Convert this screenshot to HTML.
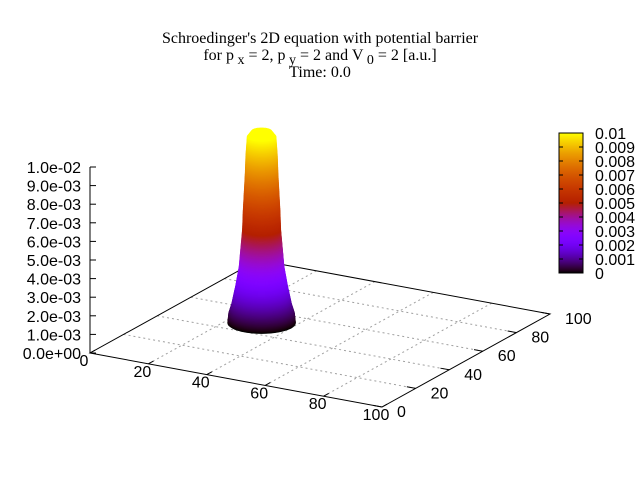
<!DOCTYPE html>
<html><head><meta charset="utf-8">
<style>
html,body{margin:0;padding:0;background:#fff;}
svg{display:block;}
.t{font-family:"Liberation Serif",serif;font-size:16px;}
.l{font-family:"Liberation Sans",sans-serif;font-size:16px;}
</style></head>
<body>
<svg id="chart" width="640" height="480" viewBox="0 0 640 480" xmlns="http://www.w3.org/2000/svg">
<text class="t" x="320" y="43" text-anchor="middle">Schroedinger's 2D equation with potential barrier</text>
<text class="t" x="320" y="60" text-anchor="middle">for p<tspan dy="4" font-size="14"> x</tspan><tspan dy="-4"> = 2, p</tspan><tspan dy="4" font-size="14"> y</tspan><tspan dy="-4"> = 2 and V</tspan><tspan dy="4" font-size="14"> 0</tspan><tspan dy="-4"> = 2 [a.u.]</tspan></text>
<text class="t" x="320" y="77" text-anchor="middle">Time: 0.0</text>
<g id="grid"></g>
<g id="axes"></g>
<g id="peak"></g>
<g id="cbar"></g>
</svg>
<script>
const xTicks=[0,20,40,60,80,100];
const yTicks=[0,20,40,60,80,100];
const zTicks=[0,0.001,0.002,0.003,0.004,0.005,0.006,0.007,0.008,0.009,0.01];
const zTickLabels=["0.0e+00","1.0e-03","2.0e-03","3.0e-03","4.0e-03","5.0e-03","6.0e-03","7.0e-03","8.0e-03","9.0e-03","1.0e-02"];
const cbTickLabels=["0","0.001","0.002","0.003","0.004","0.005","0.006","0.007","0.008","0.009","0.01"];
const peakCenter=[30,50];
const profileZ=[0,0.0005,0.001,0.002,0.003,0.004,0.005,0.006,0.007,0.008,0.009,0.010,0.0103];
const profileR=[10.1,9.8,8.9,7.7,6.7,6.2,5.7,5.5,5.2,4.9,4.7,4.3,3.0];
const NS="http://www.w3.org/2000/svg";
function P(x,y,z){return [90+x*2.92+y*1.68, 353+x*0.54-y*0.93-z*18600];}
function pal(t){t=Math.max(0,Math.min(1,t));const r=Math.sqrt(t),g=t*t*t,b=Math.max(0,Math.sin(2*Math.PI*t));
return `rgb(${Math.round(r*255)},${Math.round(g*255)},${Math.round(b*255)})`;}
function mk(tag,attrs,parent){const e=document.createElementNS(NS,tag);for(const k in attrs)e.setAttribute(k,attrs[k]);parent.appendChild(e);return e;}
const grid=document.getElementById('grid'),axes=document.getElementById('axes'),peak=document.getElementById('peak'),cbar=document.getElementById('cbar');
xTicks.slice(1,-1).forEach(v=>{const a=P(v,0,0),b=P(v,100,0);
const l=mk('line',{x1:a[0],y1:a[1],x2:b[0],y2:b[1],stroke:'#a0a0a0','stroke-width':1,'stroke-dasharray':'2,3'},grid);

});
yTicks.slice(1,-1).forEach(v=>{const a=P(0,v,0),b=P(100,v,0);
const l=mk('line',{x1:a[0],y1:a[1],x2:b[0],y2:b[1],stroke:'#a0a0a0','stroke-width':1,'stroke-dasharray':'2,3'},grid);

});
const c=[P(0,0,0),P(100,0,0),P(100,100,0),P(0,100,0)];
const bd=mk('polygon',{points:c.map(p=>p.join(',')).join(' '),fill:'none',stroke:'#000','stroke-width':1},axes);


xTicks.forEach((v,i)=>{const a=P(v,0,0),b=P(v,3,0);
mk('line',{x1:a[0],y1:a[1],x2:b[0],y2:b[1],stroke:'#000'},axes);
const t=mk('text',{x:a[0]-6,y:a[1]+13,'text-anchor':'middle',class:'l'},axes);t.textContent=String(v);

});
yTicks.forEach(v=>{const a=P(100,v,0),b=P(97,v,0);
mk('line',{x1:a[0],y1:a[1],x2:b[0],y2:b[1],stroke:'#000'},axes);
const t=mk('text',{x:a[0]+15,y:a[1]+10,'text-anchor':'start',class:'l'},axes);t.textContent=String(v);

});
{const a=P(0,0,0),b=P(0,0,0.01);
const zl=mk('line',{x1:a[0],y1:a[1],x2:b[0],y2:b[1],stroke:'#000'},axes);

}
zTicks.forEach((v,i)=>{const a=P(0,0,v);
mk('line',{x1:a[0],y1:a[1],x2:a[0]+6,y2:a[1],stroke:'#000'},axes);
const t=mk('text',{x:a[0]-9,y:a[1]+6,'text-anchor':'end',class:'l'},axes);t.textContent=zTickLabels[i];

});
function Rz(z){for(let i=0;i<profileZ.length-1;i++){if(z<=profileZ[i+1]){const f=(z-profileZ[i])/(profileZ[i+1]-profileZ[i]);return profileR[i]+f*(profileR[i+1]-profileR[i]);}}return profileR[profileR.length-1];}
const zTop=profileZ[profileZ.length-1];
for(let z=0;z<=zTop+1e-9;z+=0.00005){const R=Rz(z);const pts=[];
for(let k=0;k<48;k++){const a=k/48*2*Math.PI;const p=P(peakCenter[0]+R*Math.cos(a),peakCenter[1]+R*Math.sin(a),z);pts.push(p[0].toFixed(1)+','+p[1].toFixed(1));}
const s=mk('polygon',{points:pts.join(' '),fill:pal(z/0.01),stroke:pal(z/0.01),'stroke-width':0.6},peak);

}
const defs=mk('defs',{},cbar);const g=mk('linearGradient',{id:'cg',x1:0,y1:1,x2:0,y2:0},defs);
for(let i=0;i<=50;i++){mk('stop',{offset:i/50,'stop-color':pal(i/50)},g);}
const cx0=559,cx1=583,cy0=133,cy1=273;
const cb=mk('rect',{x:cx0,y:cy0,width:cx1-cx0,height:cy1-cy0,fill:'url(#cg)',stroke:'#000','stroke-width':1},cbar);


cbTickLabels.forEach((s,i)=>{const y=cy1-(zTicks[i]/0.01)*(cy1-cy0);
if(i>0&&i<cbTickLabels.length-1){mk('line',{x1:cx0,y1:y,x2:cx0+4,y2:y,stroke:'#000'},cbar);mk('line',{x1:cx1-4,y1:y,x2:cx1,y2:y,stroke:'#000'},cbar);}
const t=mk('text',{x:595,y:y+6,class:'l'},cbar);t.textContent=s;

});
</script>
</body></html>
